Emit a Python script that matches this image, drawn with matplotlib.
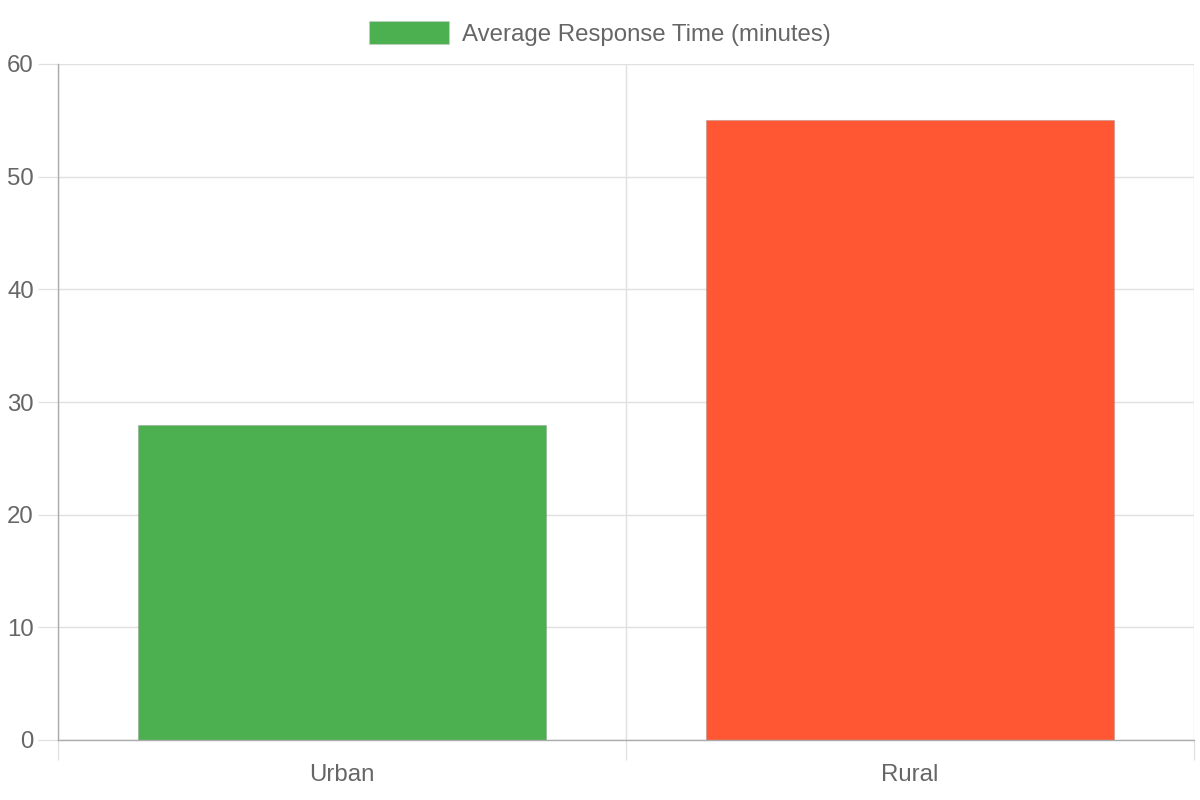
import matplotlib
matplotlib.use("Agg")
from matplotlib import pyplot as plt

# data
regions = ["Urban", "Rural"]
response_minutes = [28, 55]
bar_colors = ["#4CAF50", "#FF5733"]
series_label = "Average Response Time (minutes)"

plt.rcParams['font.family'] = ['Liberation Sans', 'DejaVu Sans']
text_gray = "#666666"
grid_gray = "#e0e0e0"
axis_gray = "#ababab"

fig = plt.figure(figsize=(12, 8), dpi=100)
ax = fig.add_axes([58 / 1200, 1 - 740 / 800, (1194 - 58) / 1200, (740 - 64) / 800])

x = list(range(len(regions)))
bars = ax.bar(x, response_minutes, width=0.72, color=bar_colors,
              edgecolor=(0.5, 0.5, 0.5, 0.3), linewidth=0.8,
              label=series_label, zorder=3)

ax.set_xlim(-0.5, len(regions) - 0.5)
ax.set_ylim(0, 60)
ax.set_yticks(range(0, 61, 10))

# boundaries between categories carry the ticks/grid, labels sit at centres
ax.set_xticks([i - 0.5 for i in range(len(regions) + 1)])
ax.set_xticklabels([])
ax.set_xticks(x, minor=True)
ax.set_xticklabels(regions, minor=True)

ax.tick_params(axis='x', which='major', length=14.4, width=0.9, color=grid_gray)
ax.tick_params(axis='x', which='minor', length=0, pad=17.5, labelsize=17.3, labelcolor=text_gray)
ax.tick_params(axis='y', length=14.4, width=0.9, color=grid_gray, pad=3,
               labelsize=17.3, labelcolor=text_gray)

ax.grid(True, which='major', color=grid_gray, linewidth=1.0, zorder=0)
ax.set_axisbelow(True)

for side in ['top', 'right']:
    ax.spines[side].set_visible(False)
for side in ['left', 'bottom']:
    ax.spines[side].set_color(axis_gray)
    ax.spines[side].set_linewidth(1.0)
    ax.spines[side].set_zorder(4)

leg = fig.legend(handles=[bars[0]], labels=[series_label], loc='upper center',
                 bbox_to_anchor=(0.5, 1 - 9 / 800), frameon=False,
                 fontsize=17.3, handlelength=3.33, handleheight=1.1,
                 handletextpad=0.55, borderpad=0, labelcolor=text_gray)
leg.legend_handles[0].set_edgecolor((0.8, 0.8, 0.8, 0.5))

fig.savefig("out.png", dpi=100)
